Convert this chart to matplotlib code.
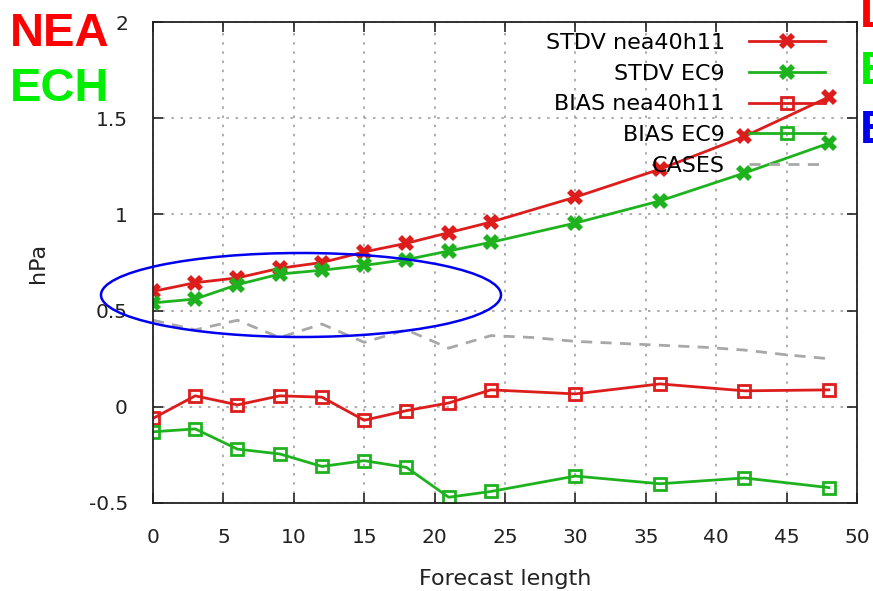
import matplotlib
matplotlib.use("Agg")
import matplotlib.pyplot as plt
from matplotlib.patches import Ellipse

plt.rcParams['font.family'] = ['DejaVu Sans']

hours = [0, 3, 6, 9, 12, 15, 18, 21, 24, 30, 36, 42, 48]
stdv_nea = [0.60, 0.645, 0.67, 0.72, 0.75, 0.805, 0.85, 0.905, 0.96, 1.09, 1.235, 1.405, 1.61]
stdv_ec9 = [0.54, 0.56, 0.635, 0.69, 0.71, 0.735, 0.765, 0.81, 0.855, 0.955, 1.07, 1.215, 1.37]
bias_nea = [-0.06, 0.057, 0.01, 0.057, 0.05, -0.07, -0.02, 0.02, 0.088, 0.067, 0.119, 0.083, 0.088]
bias_ec9 = [-0.13, -0.115, -0.22, -0.245, -0.31, -0.28, -0.315, -0.47, -0.44, -0.36, -0.40, -0.37, -0.42]
case_hours = [0, 3, 6, 9, 12, 15, 18, 21, 24, 27, 30, 33, 36, 39, 42, 45, 48]
cases = [0.45, 0.40, 0.45, 0.36, 0.43, 0.335, 0.40, 0.305, 0.37, 0.36, 0.34, 0.33, 0.32, 0.31, 0.295, 0.27, 0.25]

red = '#dd1c1c'
green = '#1fb21f'

fig = plt.figure(figsize=(8.73, 5.91), dpi=100)
ax = fig.add_axes([153/873, 1-503/591, (857-153)/873, (503-22)/591])

ax.plot(hours, stdv_nea, color=red, lw=2, marker='X', ms=11, mew=0, label='STDV nea40h11')
ax.plot(hours, stdv_ec9, color=green, lw=2, marker='X', ms=11, mew=0, label='STDV EC9')
ax.plot(hours, bias_nea, color=red, lw=2, marker='s', ms=9, mfc='none', mew=2, label='BIAS nea40h11')
ax.plot(hours, bias_ec9, color=green, lw=2, marker='s', ms=9, mfc='none', mew=2, label='BIAS EC9')
ax.plot(case_hours, cases, color='#a8a8a8', lw=2, ls=(0, (4, 3)), label='CASES')

ax.set_xlim(0, 50)
ax.set_ylim(-0.5, 2)
ax.set_xticks(range(0, 51, 5))
ax.set_yticks([-0.5, 0, 0.5, 1, 1.5, 2])
ax.set_yticklabels(['-0.5', '0', '0.5', '1', '1.5', '2'])
ax.tick_params(direction='in', top=True, right=True, labelsize=14.5, length=7, width=1.2,
               pad=18, colors='#222222')
ax.grid(True, color='#a0a0a0', ls=(0, (1.5, 4)), lw=1.2)
for s in ax.spines.values():
    s.set_linewidth(1.3)
    s.set_color('#222222')

ax.set_xlabel('Forecast length', fontsize=16, color='#222222')
ax.set_ylabel('hPa', fontsize=16, color='#222222')
ax.xaxis.set_label_coords(0.5, (503-569)/481)
ax.yaxis.set_label_coords((48-153)/704, 0.5)

ax.legend(loc='upper right', frameon=False, markerfirst=False, fontsize=16,
          handlelength=3.4, labelspacing=0.48, borderaxespad=0.1, handletextpad=1.1,
          bbox_to_anchor=(0.97, 1.0))

ell = Ellipse((301/873, 1-295/591), 400/873, 84/591, transform=fig.transFigure,
              fill=False, ec='#0000ee', lw=1.8)
fig.add_artist(ell)

big = dict(fontsize=34, fontweight='bold', family='Liberation Sans')
fig.text(10/873, 1-46/591, 'NEA', color='#ff0000', **big)
fig.text(10/873, 1-101/591, 'ECH', color='#00ee00', **big)
fig.text(860/873, 1-27/591, 'L', color='#ff0000', **big)
fig.text(860/873, 1-84/591, 'E', color='#00ee00', **big)
fig.text(860/873, 1-143/591, 'E', color='#0000ee', **big)

fig.savefig('out.png', dpi=100)
